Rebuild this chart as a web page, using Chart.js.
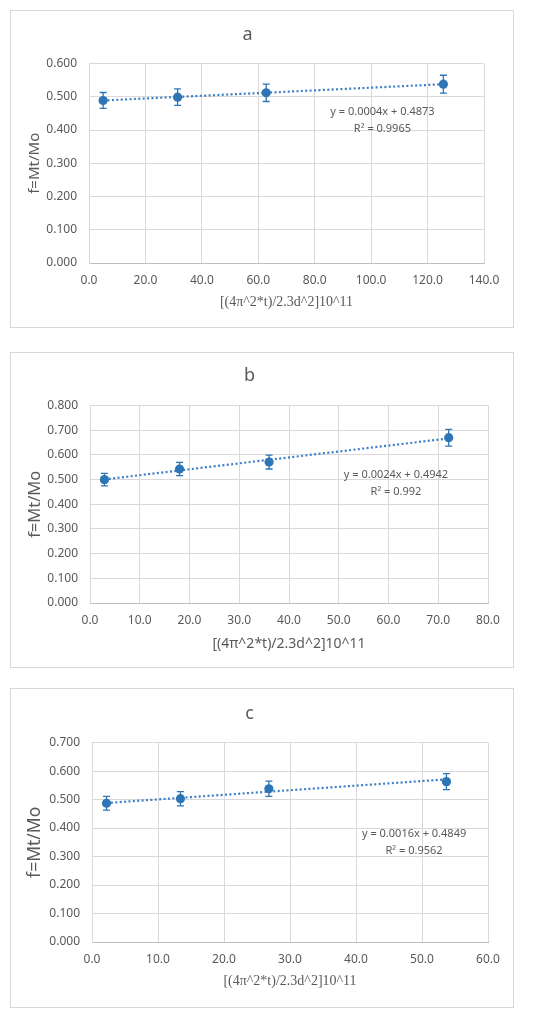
<!DOCTYPE html>
<html>
<head>
<meta charset="utf-8">
<script src="https://cdn.jsdelivr.net/npm/chart.js@4"></script>
<style>
  html, body { margin: 0; padding: 0; background: #ffffff; }
  body { width: 550px; height: 1016px; position: relative; overflow: hidden; }
  .panel { position: absolute; left: 10px; width: 504px; border: 1px solid #d9d9d9; box-sizing: border-box; background: #fff; }
  .panel canvas { position: absolute; left: 0; top: 0; }
</style>
</head>
<body>
<div class="panel" id="pa" style="top:10px;height:318px;"><canvas id="ca" width="502" height="316"></canvas></div>
<div class="panel" id="pb" style="top:352px;height:316px;"><canvas id="cb" width="502" height="314"></canvas></div>
<div class="panel" id="pc" style="top:688px;height:320px;"><canvas id="cc" width="502" height="318"></canvas></div>
<script>
// ---------- DATA ----------
const titles = ['a', 'b', 'c'];
const xTitle = '[(4\u03c0^2*t)/2.3d^2]10^11';
const yTitle = 'f=Mt/Mo';

const xA = [5.0, 31.4, 62.8, 125.6];
const yA = [0.489, 0.499, 0.512, 0.538];
const errA = [0.024, 0.025, 0.026, 0.027];
const trendXA = [5.0, 125.6];
const trendYA = [0.489, 0.538];
const eqA = ['y = 0.0004x + 0.4873', 'R\u00b2 = 0.9965'];

const xB = [2.9, 18.0, 36.0, 72.1];
const yB = [0.500, 0.543, 0.571, 0.670];
const errB = [0.025, 0.027, 0.028, 0.034];
const trendXB = [2.9, 72.1];
const trendYB = [0.501, 0.667];
const eqB = ['y = 0.0024x + 0.4942', 'R\u00b2 = 0.992'];

const xC = [2.2, 13.4, 26.8, 53.7];
const yC = [0.487, 0.503, 0.538, 0.563];
const errC = [0.024, 0.025, 0.027, 0.028];
const trendXC = [2.2, 53.7];
const trendYC = [0.488, 0.571];
const eqC = ['y = 0.0016x + 0.4849', 'R\u00b2 = 0.9562'];

const xMaxes = [140, 80, 60];
const xSteps = [20, 10, 10];
const yMaxes = [0.6, 0.8, 0.7];
const ySteps = [0.1, 0.1, 0.1];

// ---------- STYLE ----------
const BLUE = '#2E75B6';
const TEXT = '#595959';
const GRID = '#d9d9d9';
const SANS = '"Noto Sans", "Liberation Sans", Arial, sans-serif';
const SERIF = '"Liberation Serif", "DejaVu Serif", serif';

function pts(xs, ys) { return xs.map((x, i) => ({ x: x, y: ys[i] })); }

const errorBars = {
  id: 'errorBars',
  afterDatasetsDraw(chart, args, opts) {
    const ctx = chart.ctx, xs = chart.scales.x, ys = chart.scales.y;
    ctx.save();
    ctx.strokeStyle = BLUE;
    ctx.lineWidth = 1.3;
    opts.xs.forEach((xv, i) => {
      const px = xs.getPixelForValue(xv);
      const top = ys.getPixelForValue(opts.ys[i] + opts.err[i]);
      const bot = ys.getPixelForValue(opts.ys[i] - opts.err[i]);
      ctx.beginPath();
      ctx.moveTo(px, top); ctx.lineTo(px, bot);
      ctx.moveTo(px - 3.5, top); ctx.lineTo(px + 3.5, top);
      ctx.moveTo(px - 3.5, bot); ctx.lineTo(px + 3.5, bot);
      ctx.stroke();
    });
    ctx.restore();
  }
};

const eqLabel = {
  id: 'eqLabel',
  afterDraw(chart, args, opts) {
    const ctx = chart.ctx, xs = chart.scales.x, ys = chart.scales.y;
    const px = xs.getPixelForValue(opts.x);
    const py = ys.getPixelForValue(opts.y);
    ctx.save();
    ctx.fillStyle = TEXT;
    ctx.font = '11px ' + SANS;
    ctx.textAlign = 'center';
    ctx.textBaseline = 'middle';
    opts.lines.forEach((t, i) => ctx.fillText(t, px, py + i * opts.gap));
    ctx.restore();
  }
};

function makeChart(id, p) {
  new Chart(document.getElementById(id), {
    type: 'scatter',
    data: {
      datasets: [
        {
          type: 'scatter',
          data: pts(p.xs, p.ys),
          pointRadius: 4.6,
          pointHoverRadius: 4.6,
          backgroundColor: BLUE,
          borderColor: BLUE,
          borderWidth: 0,
          order: 1
        },
        {
          type: 'line',
          data: pts(p.tx, p.ty),
          borderColor: '#3A7FC6',
          borderWidth: 2.2,
          borderDash: [2, 2.4],
          pointRadius: 0,
          fill: false,
          order: 2
        }
      ]
    },
    options: {
      responsive: false,
      animation: false,
      events: [],
      layout: { padding: { left: 0, right: p.padR, top: 0, bottom: 0 } },
      plugins: {
        legend: { display: false },
        tooltip: { enabled: false },
        title: {
          display: true,
          text: p.title,
          color: TEXT,
          font: { family: SANS, size: 18, weight: 'normal' },
          padding: { top: p.titleTop, bottom: p.titleBottom }
        },
        errorBars: { xs: p.xs, ys: p.ys, err: p.err },
        eqLabel: { x: p.eqX, y: p.eqY, lines: p.eq, gap: 17 }
      },
      scales: {
        x: {
          type: 'linear',
          min: 0, max: p.xMax,
          afterBuildTicks(s) {
            const t = [];
            for (let v = 0; v <= p.xMax + 1e-9; v += p.xStep) t.push({ value: +v.toFixed(6) });
            s.ticks = t;
          },
          afterFit(s) { s.height = p.xH; },
          grid: { color: GRID, drawTicks: false, lineWidth: 1 },
          border: { color: '#bfbfbf', width: 1 },
          ticks: {
            color: TEXT,
            font: { family: SANS, size: 12 },
            padding: 10,
            maxRotation: 0,
            autoSkip: false,
            callback: v => Number(v).toFixed(1)
          },
          title: {
            display: true,
            text: xTitle,
            color: TEXT,
            font: { family: p.xFont, size: p.xSize },
            padding: { top: 0, bottom: p.xTitleBottom }
          }
        },
        y: {
          type: 'linear',
          min: 0, max: p.yMax,
          afterBuildTicks(s) {
            const t = [];
            for (let i = 0; i * p.yStep <= p.yMax + 1e-9; i++) t.push({ value: +(i * p.yStep).toFixed(6) });
            s.ticks = t;
          },
          afterFit(s) { s.width = p.yW; },
          grid: { color: GRID, drawTicks: false, lineWidth: 1 },
          border: { color: GRID, width: 1 },
          ticks: {
            color: TEXT,
            font: { family: SANS, size: 12 },
            padding: 12,
            autoSkip: false,
            callback: v => Number(v).toFixed(3)
          },
          title: {
            display: true,
            text: yTitle,
            color: TEXT,
            font: { family: SANS, size: p.ySize },
            padding: { top: p.yTitleTop, bottom: 0 }
          }
        }
      }
    },
    plugins: [errorBars, eqLabel]
  });
}

makeChart('ca', {
  title: titles[0], xs: xA, ys: yA, err: errA, tx: trendXA, ty: trendYA, eq: eqA,
  eqX: 104, eqY: 0.455,
  xMax: xMaxes[0], xStep: xSteps[0], yMax: yMaxes[0], yStep: ySteps[0],
  padR: 29, titleTop: 13, titleBottom: 18, xH: 64, yW: 78,
  xFont: SERIF, xSize: 14, xTitleBottom: 16, ySize: 15, yTitleTop: 15
});
makeChart('cb', {
  title: titles[1], xs: xB, ys: yB, err: errB, tx: trendXB, ty: trendYB, eq: eqB,
  eqX: 61.5, eqY: 0.520,
  xMax: xMaxes[1], xStep: xSteps[1], yMax: yMaxes[1], yStep: ySteps[1],
  padR: 25, titleTop: 12, titleBottom: 19, xH: 64, yW: 79,
  xFont: SANS, xSize: 14, xTitleBottom: 15, ySize: 16.5, yTitleTop: 14
});
makeChart('cc', {
  title: titles[2], xs: xC, ys: yC, err: errC, tx: trendXC, ty: trendYC, eq: eqC,
  eqX: 48.8, eqY: 0.380,
  xMax: xMaxes[2], xStep: xSteps[2], yMax: yMaxes[2], yStep: ySteps[2],
  padR: 25, titleTop: 14, titleBottom: 18, xH: 65, yW: 81,
  xFont: SERIF, xSize: 14, xTitleBottom: 17, ySize: 17.5, yTitleTop: 14
});
</script>
</body>
</html>
